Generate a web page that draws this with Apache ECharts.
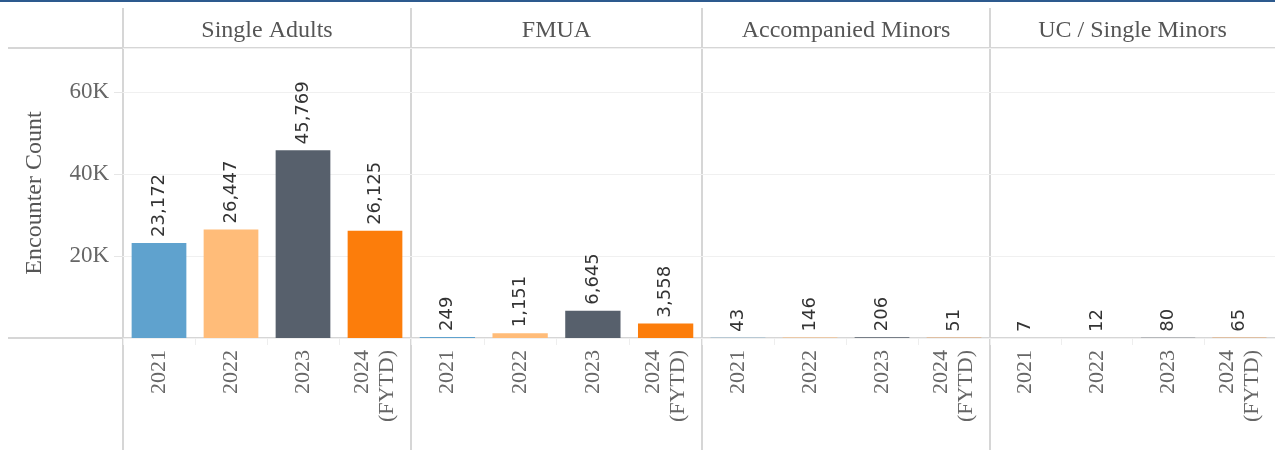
<!DOCTYPE html>
<html>
<head>
<meta charset="utf-8">
<script src="https://cdn.jsdelivr.net/npm/echarts@6/dist/echarts.min.js"></script>
<style>
  html, body { margin: 0; padding: 0; background: #fff; }
  #chart { width: 1275px; height: 450px; }
</style>
</head>
<body>
<div id="chart"></div>
<script>
// data
const panels = ['Single Adults', 'FMUA', 'Accompanied Minors', 'UC / Single Minors']
const years = ['2021', '2022', '2023', '2024\n(FYTD)']
const singleAdults = [23172, 26447, 45769, 26125]
const fmua = [249, 1151, 6645, 3558]
const accompaniedMinors = [43, 146, 206, 51]
const ucSingleMinors = [7, 12, 80, 65]
const yTicks = [20000, 40000, 60000]

const seriesValues = [singleAdults, fmua, accompaniedMinors, ucSingleMinors]
const yearColors = ['#5fa2ce', '#ffbc79', '#57606c', '#fc7d0b']

// panel layout (px)
const panelLeft = [123, 411, 702, 990]
const panelWidth = [288, 291, 288, 285]
const plotTop = 48
const plotBottom = 338
const serif = '"Liberation Serif", "Times New Roman", serif'
const sans = '"DejaVu Sans", Tahoma, sans-serif'

const chart = echarts.init(document.getElementById('chart'), null, { renderer: 'canvas' })

const grids = panelLeft.map((left, i) => ({
  left: left,
  width: panelWidth[i],
  top: plotTop,
  height: plotBottom - plotTop
}))

const xAxes = panelLeft.map((_, i) => ({
  type: 'category',
  gridIndex: i,
  data: years,
  axisLine: { show: false },
  axisTick: { show: true, length: 7, lineStyle: { color: '#eeeeee' } },
  axisLabel: {
    rotate: 90,
    margin: 12,
    interval: 0,
    fontFamily: serif,
    fontSize: 22,
    color: '#666',
    lineHeight: 25
  }
}))

const yAxes = panelLeft.map((_, i) => ({
  type: 'value',
  gridIndex: i,
  min: 0,
  max: 70700,
  interval: 20000,
  name: i === 0 ? 'Encounter Count' : '',
  nameLocation: 'middle',
  nameGap: 76,
  nameTextStyle: { fontFamily: serif, fontSize: 24, color: '#555' },
  axisLine: { show: false },
  axisTick: { show: i === 0, length: 9, lineStyle: { color: '#e6e6e6' } },
  splitLine: { show: true, lineStyle: { color: '#f0f0f0', width: 1 } },
  axisLabel: {
    show: i === 0,
    margin: 14,
    fontFamily: serif,
    fontSize: 23,
    color: '#666',
    showMinLabel: false,
    showMaxLabel: false,
    formatter: v => (yTicks.includes(v) ? v / 1000 + 'K' : '')
  }
}))

const series = seriesValues.map((vals, i) => ({
  type: 'bar',
  xAxisIndex: i,
  yAxisIndex: i,
  barWidth: '76%',
  data: vals.map((v, j) => ({ value: v, itemStyle: { color: yearColors[j] } })),
  label: {
    show: true,
    position: 'top',
    rotate: 90,
    align: 'left',
    verticalAlign: 'middle',
    distance: 6,
    fontFamily: sans,
    fontSize: 18,
    color: '#333',
    formatter: p => p.value.toLocaleString('en-US')
  }
}))

const titles = panels.map((name, i) => ({
  text: name,
  left: panelLeft[i] + panelWidth[i] / 2,
  top: 19,
  padding: 0,
  textAlign: 'center',
  textStyle: { fontFamily: serif, fontSize: 24, fontWeight: 'normal', color: '#555' }
}))

const lineStyle = { stroke: '#d6d6d6', lineWidth: 2 }
const graphic = [
  { type: 'rect', shape: { x: 0, y: 0, width: 1275, height: 2 }, style: { fill: '#2d5a8e' } },
  { type: 'line', shape: { x1: 8, y1: plotTop, x2: 1275, y2: plotTop }, style: lineStyle },
  { type: 'line', shape: { x1: 8, y1: plotBottom, x2: 1275, y2: plotBottom }, style: lineStyle }
].concat(panelLeft.map(x => ({
  type: 'line',
  shape: { x1: x, y1: 8, x2: x, y2: 450 },
  style: lineStyle
})))

chart.setOption({
  animation: false,
  title: titles,
  grid: grids,
  xAxis: xAxes,
  yAxis: yAxes,
  series: series,
  graphic: graphic
})
</script>
</body>
</html>
